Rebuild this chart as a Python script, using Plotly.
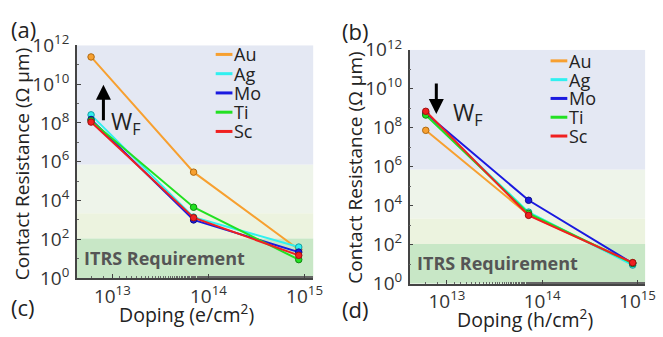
import plotly.graph_objects as go

W, H = 663, 337

metals = ["Au", "Ag", "Mo", "Ti", "Sc"]
colors = ["#f7a030", "#30f0f0", "#1a1ae0", "#22e022", "#f02020"]
edge = ["#b06a10", "#1aa0a0", "#10108a", "#118811", "#a01010"]

dop_e = [6.0e12, 7.0e13, 8.7e14]
dop_h = [6.0e12, 7.2e13, 8.9e14]

# panel (a) electron doping
res_e = {
    "Au": [2.5e11, 2.9e5, 30],
    "Ag": [2.6e8, 1.4e3, 40],
    "Mo": [1.5e8, 1.0e3, 22],
    "Ti": [1.3e8, 4.5e3, 9],
    "Sc": [1.1e8, 1.3e3, 15],
}
# panel (b) hole doping
res_h = {
    "Au": [7.4e7, 3.4e3, 12],
    "Ag": [5.0e8, 4.7e3, 9],
    "Mo": [5.6e8, 1.9e4, 11],
    "Ti": [4.5e8, 4.0e3, 11],
    "Sc": [7.0e8, 3.2e3, 12],
}

band_edges = [1e12, 7e5, 2.2e3, 1.1e2, 1]
band_colors = ["#e4e8f3", "#eef4ea", "#ecf3df", "#c8e7c6"]

ytickvals = [1, 1e2, 1e4, 1e6, 1e8, 1e10, 1e12]
yticktext = ["10<sup>%d</sup>" % p for p in [0, 2, 4, 6, 8, 10, 12]]
xtickvals = [1e13, 1e14, 1e15]
xticktext = ["10<sup>13</sup>", "10<sup>14</sup>", "10<sup>15</sup>"]

FONT = "Open Sans"

fig = go.Figure()

def px(x):
    return x / W

def py(y):
    return 1 - y / H

panels = [
    dict(xa="x", ya="y", xd=[78, 318], yd=[33, 287], xr=[12.63, 15.09], dop=dop_e, res=res_e),
    dict(xa="x2", ya="y2", xd=[416, 655], yd=[38, 293], xr=[12.61, 15.08], dop=dop_h, res=res_h),
]

for i, p in enumerate(panels):
    for m, c, e in zip(metals, colors, edge):
        fig.add_trace(go.Scatter(
            x=p["dop"], y=p["res"][m], mode="lines+markers", name=m,
            xaxis=p["xa"], yaxis=p["ya"], showlegend=False,
            line=dict(color=c, width=2),
            marker=dict(size=6.5, color=c, line=dict(color=e, width=1)),
        ))
    for k in range(len(band_colors)):
        fig.add_shape(type="rect", xref=p["xa"] + " domain", yref=p["ya"],
                      x0=0, x1=1, y0=band_edges[k + 1], y1=band_edges[k],
                      fillcolor=band_colors[k], line=dict(width=0), layer="below")

axis_common = dict(
    showline=True, linecolor="#444", linewidth=1.5, mirror=False,
    ticks="inside", ticklen=4, tickcolor="#444", showgrid=False, zeroline=False,
    tickfont=dict(family=FONT, size=19, color="#333"),
    minor=dict(ticks="inside", ticklen=2, tickcolor="#666", showgrid=False),
)

lay = dict(
    width=W, height=H, margin=dict(l=0, r=0, t=0, b=0),
    paper_bgcolor="white", plot_bgcolor="white", showlegend=False,
)
for i, p in enumerate(panels):
    sfx = "" if i == 0 else "2"
    lay["xaxis" + sfx] = dict(type="log", range=p["xr"],
                              domain=[px(p["xd"][0]), px(p["xd"][1])],
                              anchor=p["ya"], tickvals=xtickvals, ticktext=xticktext,
                              ticklabelstandoff=0,
                              **axis_common)
    lay["yaxis" + sfx] = dict(type="log", range=[0, 12],
                              domain=[py(p["yd"][1]), py(p["yd"][0])],
                              anchor=p["xa"], tickvals=ytickvals, ticktext=yticktext,
                              ticklabelstandoff=2,
                              **axis_common)
fig.update_layout(**lay)

ann = []
def text(x, y, s, size, xanchor="center", color="#222", bold=False, angle=0):
    if bold:
        s = "<b>" + s + "</b>"
    ann.append(dict(xref="paper", yref="paper", x=px(x), y=py(y), text=s,
                    showarrow=False, xanchor=xanchor, yanchor="middle",
                    textangle=angle, font=dict(family=FONT, size=size, color=color)))

text(9, 15, "(a)", 22, "left")
text(345, 17, "(b)", 22, "left")
text(9, 318, "(c)", 22, "left")
text(345, 321, "(d)", 22, "left")
text(189, 326, "Doping (e/cm<sup>2</sup>)", 19.5)
text(533, 331, "Doping (h/cm<sup>2</sup>)", 19.5)
text(22, 162, "Contact Resistance (Ω μm)", 19, angle=-90)
text(361, 166, "Contact Resistance (Ω μm)", 19, angle=-90)
text(83, 265, "ITRS Requirement", 18, "left", color="#555", bold=True)
text(421, 270, "ITRS Requirement", 18, "left", color="#555", bold=True)
text(111, 117, "W<sub>F</sub>", 23, "left")
text(458, 107, "W<sub>F</sub>", 23, "left")

# arrows
ann.append(dict(xref="paper", yref="paper", x=px(105), y=py(76), ax=0, ay=37,
                showarrow=True, arrowhead=2, arrowsize=1, arrowwidth=3, arrowcolor="black", text=""))
ann.append(dict(xref="paper", yref="paper", x=px(443), y=py(108), ax=0, ay=-32,
                showarrow=True, arrowhead=2, arrowsize=1, arrowwidth=3, arrowcolor="black", text=""))

# manual legends
leg_pos = [(219, 43, 21), (559, 50, 20.5)]
for (lx, ly, dy) in leg_pos:
    for j, (m, c) in enumerate(zip(metals, colors)):
        yy = ly + j * dy
        fig.add_shape(type="line", xref="paper", yref="paper",
                      x0=px(lx), x1=px(lx + 17), y0=py(yy), y1=py(yy),
                      line=dict(color=c, width=3))
        text(lx + 17, yy, m, 18, "left")

fig.update_layout(annotations=ann)
fig.write_html("out.html")
